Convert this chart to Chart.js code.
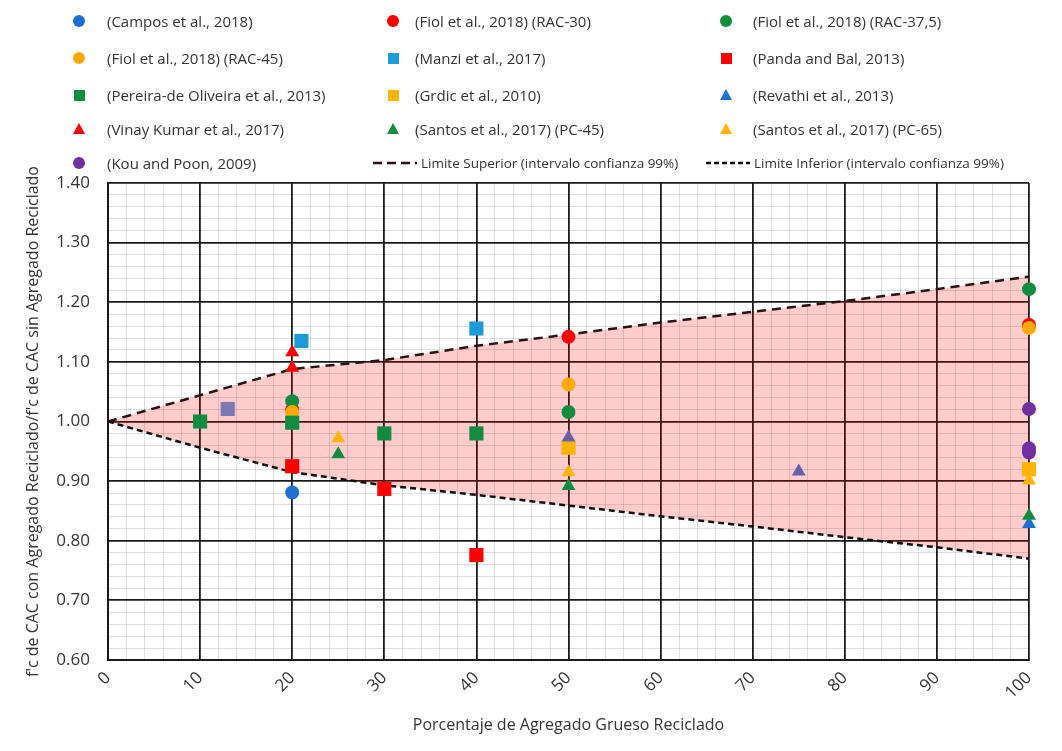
<!DOCTYPE html>
<html>
<head>
<meta charset="utf-8">
<script src="https://cdn.jsdelivr.net/npm/chart.js@4.4.1/dist/chart.umd.min.js"></script>
<style>
  body { margin: 0; background: #fff; }
  #wrap { position: relative; width: 1062px; height: 751px; }
  #legend { position: absolute; left: 0; top: 0; width: 1062px; height: 180px; font-family: "Open Sans", sans-serif; color: #333; }
  .lbl { position: absolute; white-space: nowrap; font-size: 15px; line-height: 18px; }
  .lbl.small { font-size: 13.5px; }
  .mk { position: absolute; }
</style>
</head>
<body>
<div id="wrap">
  <canvas id="chart" width="1062" height="751"></canvas>
  <div id="legend"></div>
</div>
<script>
// x = % agregado grueso reciclado, y = f'c con AR / f'c sin AR
const campos = [[20, 0.881]];
const fiolRac30 = [[20, 1.020], [50, 1.142], [100, 1.162]];
const fiolRac375 = [[20, 1.034], [50, 1.016], [100, 1.222]];
const fiolRac45 = [[20, 1.016], [50, 1.062], [100, 1.157]];
const manzi = [[21, 1.135], [40, 1.156]];
const pandaBal = [[20, 0.925], [30, 0.887], [40, 0.776]];
const pereira = [[10, 1.000], [20, 0.998], [30, 0.980], [40, 0.980]];
const grdic = [[50, 0.956], [100, 0.920]];
const revathi = [[100, 0.828]];
const vinayKumar = [[20, 1.116], [20, 1.090]];
const santos45 = [[25, 0.945], [50, 0.892], [100, 0.842]];
const santos65 = [[25, 0.972], [50, 0.915], [100, 0.901]];
const kouPoon = [[100, 1.021], [100, 0.955], [100, 0.948]];
const otherSquare = [[13, 1.021]];
const otherTriangle = [[50, 0.973], [75, 0.916]];

const limitPct = [0, 10, 20, 30, 40, 50, 60, 70, 80, 90, 100];
const upperLimit = [1.000, 1.044, 1.088, 1.103, 1.127, 1.146, 1.166, 1.184, 1.202, 1.222, 1.243];
const lowerLimit = [1.000, 0.956, 0.915, 0.893, 0.877, 0.859, 0.841, 0.824, 0.806, 0.789, 0.770];

const xTicks = [0, 10, 20, 30, 40, 50, 60, 70, 80, 90, 100];
const yTicks = ['0.60', '0.70', '0.80', '0.90', '1.00', '1.10', '1.20', '1.30', '1.40'];

const BLUE = '#1f6fce', RED = '#ff0000', GREEN = '#128c3e', ORANGE = '#ffa800',
      LBLUE = '#1e9ad6', GOLD = '#ffb400', PURPLE = '#7030a0', SLATE = '#7b78b4', SLATE2 = '#6a5fab';

const radius = { circle: 7, rect: 10, triangle: 8 };

function markers(label, pts, shape, color, inLegend = true) {
  return {
    type: 'scatter',
    label: label,
    data: pts.map(p => ({ x: p[0], y: p[1] })),
    pointStyle: shape,
    pointRadius: radius[shape],
    pointHoverRadius: radius[shape],
    backgroundColor: color,
    borderColor: color,
    borderWidth: 0,
    clip: false,
    inLegend: inLegend
  };
}

const markerSets = [
  markers('(Campos et al., 2018)', campos, 'circle', BLUE),
  markers('(Fiol et al., 2018) (RAC-30)', fiolRac30, 'circle', RED),
  markers('(Fiol et al., 2018) (RAC-37,5)', fiolRac375, 'circle', GREEN),
  markers('(Fiol et al., 2018) (RAC-45)', fiolRac45, 'circle', ORANGE),
  markers('(Manzi et al., 2017)', manzi, 'rect', LBLUE),
  markers('(Panda and Bal, 2013)', pandaBal, 'rect', RED),
  markers('(Pereira-de Oliveira et al., 2013)', pereira, 'rect', GREEN),
  markers('(Grdic et al., 2010)', grdic, 'rect', GOLD),
  markers('(Revathi et al., 2013)', revathi, 'triangle', BLUE),
  markers('(Vinay Kumar et al., 2017)', vinayKumar, 'triangle', RED),
  markers('(Santos et al., 2017) (PC-45)', santos45, 'triangle', GREEN),
  markers('(Santos et al., 2017) (PC-65)', santos65, 'triangle', GOLD),
  markers('(Kou and Poon, 2009)', kouPoon, 'circle', PURPLE),
  markers('', otherSquare, 'rect', SLATE, false),
  markers('', otherTriangle, 'triangle', SLATE2, false)
];
// later datasets on top
markerSets.forEach((d, i) => { d.order = -i; });

const lineSets = [
  {
    type: 'line',
    label: 'Limite Superior (intervalo confianza 99%)',
    data: limitPct.map((x, i) => ({ x: x, y: upperLimit[i] })),
    borderColor: '#2a1212',
    borderWidth: 2.5,
    borderDash: [9, 6],
    pointRadius: 0,
    fill: false,
    order: 1,
    inLegend: true,
    dash: '9,5'
  },
  {
    type: 'line',
    label: 'Limite Inferior (intervalo confianza 99%)',
    data: limitPct.map((x, i) => ({ x: x, y: lowerLimit[i] })),
    borderColor: '#111',
    borderWidth: 2.5,
    borderDash: [6, 4],
    pointRadius: 0,
    fill: '-1',
    backgroundColor: 'rgba(255, 0, 0, 0.2)',
    order: 1,
    inLegend: true,
    dash: '5,3'
  }
];

const datasets = markerSets.concat(lineSets);

const isMajorX = v => Math.round(v) % 10 === 0;
const isMajorY = v => Math.round(v * 100) % 10 === 0;
const FONT = "'Open Sans'";

const chart = new Chart(document.getElementById('chart'), {
  type: 'scatter',
  data: { datasets: datasets },
  options: {
    responsive: false,
    animation: false,
    layout: { padding: { top: 183, right: 33, left: 0, bottom: 0 } },
    plugins: {
      legend: { display: false },
      tooltip: { enabled: false },
      filler: { drawTime: 'beforeDatasetsDraw' }
    },
    scales: {
      x: {
        type: 'linear',
        min: 0,
        max: 100,
        afterFit: s => { s.height = 91; },
        ticks: {
          stepSize: 2,
          autoSkip: false,
          minRotation: 45,
          maxRotation: 45,
          padding: 8,
          color: '#333',
          font: { family: FONT, size: 17 },
          callback: v => (isMajorX(v) && xTicks.includes(Math.round(v))) ? String(Math.round(v)) : ''
        },
        grid: {
          drawTicks: false,
          color: c => isMajorX(c.tick.value) ? '#1a1a1a' : 'rgba(0, 0, 0, 0.13)',
          lineWidth: c => isMajorX(c.tick.value) ? 1.8 : 1
        },
        border: { color: '#1a1a1a', width: 2 },
        title: {
          display: true,
          text: 'Porcentaje de Agregado Grueso Reciclado',
          color: '#333',
          font: { family: FONT, size: 16 },
          padding: { top: 6, bottom: 16 }
        }
      },
      y: {
        type: 'linear',
        min: 0.6,
        max: 1.4,
        afterFit: s => { s.width = 108; },
        ticks: {
          stepSize: 0.02,
          autoSkip: false,
          padding: 18,
          color: '#333',
          font: { family: FONT, size: 17 },
          callback: v => {
            const t = v.toFixed(2);
            return (isMajorY(v) && yTicks.includes(t)) ? t : '';
          }
        },
        grid: {
          drawTicks: false,
          color: c => isMajorY(c.tick.value) ? '#1a1a1a' : 'rgba(0, 0, 0, 0.13)',
          lineWidth: c => isMajorY(c.tick.value) ? 1.8 : 1
        },
        border: { color: '#1a1a1a', width: 2 },
        title: {
          display: true,
          text: "f'c de CAC con Agregado Reciclado/f'c de CAC sin Agregado Reciclado",
          color: '#333',
          font: { family: FONT, size: 16 },
          padding: { top: 24, bottom: 0 }
        }
      }
    }
  }
});

// legend in three columns, built from the datasets
const legendCols = [{ mark: 79, text: 107 }, { mark: 393, text: 415 }, { mark: 726, text: 753 }];
const legendRows = [21, 58, 95, 129, 163];

function markerHtml(shape, color, cx, cy) {
  if (shape === 'circle') {
    return `<div class="mk" style="left:${cx - 6}px;top:${cy - 6}px;width:12px;height:12px;border-radius:50%;background:${color}"></div>`;
  }
  if (shape === 'rect') {
    return `<div class="mk" style="left:${cx - 5.5}px;top:${cy - 5.5}px;width:11px;height:11px;background:${color}"></div>`;
  }
  return `<div class="mk" style="left:${cx - 6}px;top:${cy - 6}px;width:0;height:0;border-left:6px solid transparent;border-right:6px solid transparent;border-bottom:11px solid ${color}"></div>`;
}

const legendEl = document.getElementById('legend');
let html = '';
datasets.filter(d => d.inLegend).forEach((d, i) => {
  const col = legendCols[i % 3];
  const cy = legendRows[Math.floor(i / 3)];
  if (d.type === 'line') {
    const x0 = col.mark - 20;
    html += `<svg class="mk" style="left:${x0}px;top:${cy - 3}px" width="44" height="6"><line x1="0" y1="3" x2="44" y2="3" stroke="${d.borderColor}" stroke-width="2.5" stroke-dasharray="${d.dash}"/></svg>`;
    html += `<div class="lbl small" style="left:${x0 + 48}px;top:${cy - 9}px">${d.label}</div>`;
  } else {
    html += markerHtml(d.pointStyle, d.backgroundColor, col.mark, cy);
    html += `<div class="lbl" style="left:${col.text}px;top:${cy - 9}px">${d.label}</div>`;
  }
});
legendEl.innerHTML = html;
</script>
</body>
</html>
